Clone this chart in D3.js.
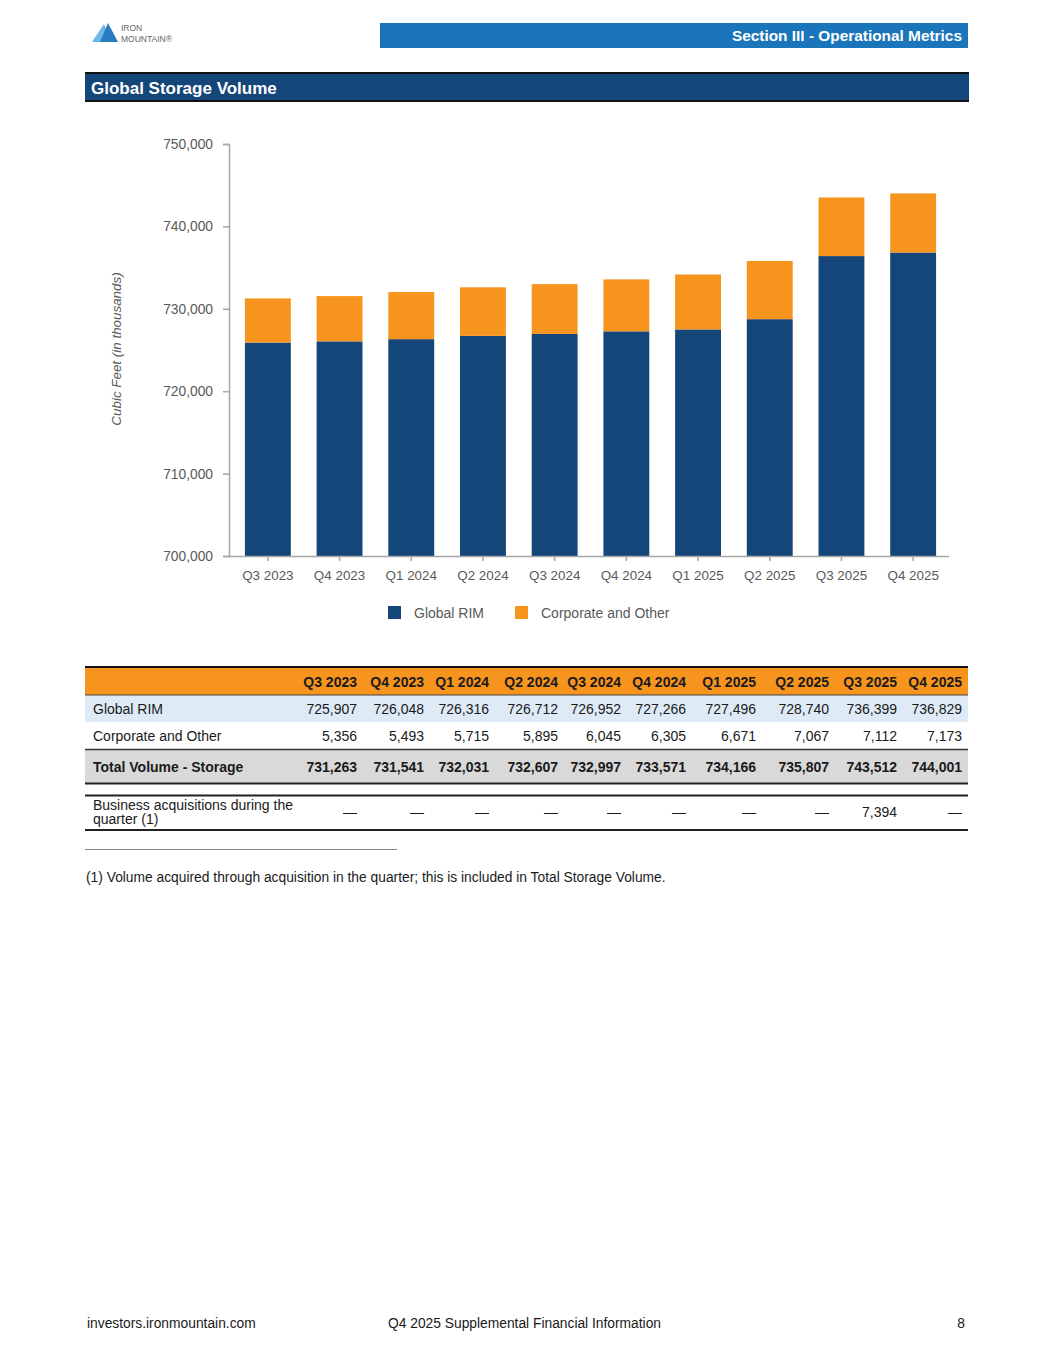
<!DOCTYPE html>
<html>
<head>
<meta charset="utf-8">
<script src="https://cdn.jsdelivr.net/npm/d3@7/dist/d3.min.js"></script>
<style>
  body { margin: 0; background: #fff; }
  text { font-family: "Liberation Sans", Arial, sans-serif; }
</style>
</head>
<body>
<script>
// data
var quarters = ["Q3 2023", "Q4 2023", "Q1 2024", "Q2 2024", "Q3 2024", "Q4 2024", "Q1 2025", "Q2 2025", "Q3 2025", "Q4 2025"];
var globalRim = [725907, 726048, 726316, 726712, 726952, 727266, 727496, 728740, 736399, 736829];
var corporate = [5356, 5493, 5715, 5895, 6045, 6305, 6671, 7067, 7112, 7173];
var totals = [731263, 731541, 732031, 732607, 732997, 733571, 734166, 735807, 743512, 744001];
var acquisitions = [null, null, null, null, null, null, null, null, 7394, null];
var yTicks = [700000, 710000, 720000, 730000, 740000, 750000];
var seriesNames = ["Global RIM", "Corporate and Other"];

var blue = "#15467a", orange = "#f7941d", grey = "#595959";
var fmt = d3.format(",");

var svg = d3.select("body").append("svg")
    .attr("width", 1055)
    .attr("height", 1365);

// ---- page header ----
var logo = svg.append("g");
logo.append("path").attr("d", "M92,42 L104,24 L112,42 Z").attr("fill", "#6cb9e6");
logo.append("path").attr("d", "M100,42 L108,23 L118,42 Z").attr("fill", "#2a7cc0");
logo.append("text").attr("x", 121).attr("y", 31).attr("font-size", 8.5).attr("fill", "#666").text("IRON");
logo.append("text").attr("x", 121).attr("y", 42).attr("font-size", 8.5).attr("fill", "#666").text("MOUNTAIN®");

svg.append("rect").attr("x", 380).attr("y", 23).attr("width", 588).attr("height", 25).attr("fill", "#1b75bb");
svg.append("text")
   .attr("x", 962).attr("y", 41)
   .attr("text-anchor", "end")
   .attr("font-size", 15.4).attr("font-weight", "bold").attr("fill", "#fff")
   .text("Section III - Operational Metrics");

svg.append("rect").attr("x", 85).attr("y", 73).attr("width", 884).attr("height", 28).attr("fill", blue);
svg.append("line").attr("x1", 85).attr("x2", 969).attr("y1", 73).attr("y2", 73).attr("stroke", "#111").attr("stroke-width", 2);
svg.append("line").attr("x1", 85).attr("x2", 969).attr("y1", 101).attr("y2", 101).attr("stroke", "#111").attr("stroke-width", 2);
svg.append("text")
   .attr("x", 91).attr("y", 94)
   .attr("font-size", 17).attr("font-weight", "bold").attr("fill", "#fff")
   .text("Global Storage Volume");

// ---- chart ----
var xScale = d3.scaleBand()
    .domain(quarters)
    .range([232, 949])
    .paddingInner(0.36)
    .paddingOuter(0.18);

var yScale = d3.scaleLinear()
    .domain([700000, 750000])
    .range([556, 144]);

var stackData = quarters.map(function(q, i) {
    return {q: q, rim: globalRim[i], corp: corporate[i]};
});

var chart = svg.append("g");

chart.selectAll(".rim")
    .data(stackData)
    .enter().append("rect")
    .attr("class", "rim")
    .attr("x", function(d) { return xScale(d.q); })
    .attr("width", xScale.bandwidth())
    .attr("y", function(d) { return yScale(d.rim); })
    .attr("height", function(d) { return yScale(700000) - yScale(d.rim); })
    .attr("fill", blue);

chart.selectAll(".corp")
    .data(stackData)
    .enter().append("rect")
    .attr("class", "corp")
    .attr("x", function(d) { return xScale(d.q); })
    .attr("width", xScale.bandwidth())
    .attr("y", function(d) { return yScale(d.rim + d.corp); })
    .attr("height", function(d) { return yScale(d.rim) - yScale(d.rim + d.corp); })
    .attr("fill", orange);

// Y axis
var yAxis = svg.append("g")
    .attr("transform", "translate(229,0)")
    .call(d3.axisLeft(yScale).tickValues(yTicks).tickFormat(fmt).tickSize(6).tickPadding(10));
yAxis.select(".domain").attr("stroke", "#a6a6a6").attr("stroke-width", 1.5);
yAxis.selectAll(".tick line").attr("stroke", "#a6a6a6").attr("stroke-width", 1.5);
yAxis.selectAll(".tick text").attr("font-size", 13.8).attr("fill", grey).style("font-family", "Liberation Sans, Arial, sans-serif");

// X axis
var xAxis = svg.append("g")
    .attr("transform", "translate(0,556)")
    .call(d3.axisBottom(xScale).tickSize(5).tickSizeOuter(0).tickPadding(9));
xAxis.select(".domain").attr("d", "M229,0.5H949").attr("stroke", "#a6a6a6").attr("stroke-width", 1.5);
xAxis.selectAll(".tick line").attr("stroke", "#a6a6a6").attr("stroke-width", 1.5);
xAxis.selectAll(".tick text").attr("font-size", 13.4).attr("fill", grey).style("font-family", "Liberation Sans, Arial, sans-serif");

// Y label
svg.append("text")
   .attr("transform", "translate(121,349) rotate(-90)")
   .attr("text-anchor", "middle")
   .attr("font-size", 13.4).attr("font-style", "italic").attr("fill", grey)
   .text("Cubic Feet (in thousands)");

// legend
var legendX = [388, 515];
var legend = svg.selectAll(".legend")
    .data(seriesNames)
    .enter().append("g")
    .attr("class", "legend")
    .attr("transform", function(d, i) { return "translate(" + legendX[i] + ",606)"; });
legend.append("rect").attr("width", 13).attr("height", 13)
    .attr("fill", function(d, i) { return i === 0 ? blue : orange; });
legend.append("text").attr("x", 26).attr("y", 12)
    .attr("font-size", 14).attr("fill", grey)
    .text(function(d) { return d; });

// ---- table ----
var colRight = [357, 424, 489, 558, 621, 686, 756, 829, 897, 962];
var table = svg.append("g");
var tx0 = 85, tx1 = 968;

table.append("rect").attr("x", tx0).attr("y", 668).attr("width", tx1 - tx0).attr("height", 27).attr("fill", orange);
table.append("rect").attr("x", tx0).attr("y", 695).attr("width", tx1 - tx0).attr("height", 27).attr("fill", "#deebf7");
table.append("rect").attr("x", tx0).attr("y", 750).attr("width", tx1 - tx0).attr("height", 33).attr("fill", "#d9d9d9");

[[667, 2, "#111"], [695, 1, "#444"], [749.5, 1.5, "#333"], [783.5, 2, "#222"], [795.5, 2, "#222"], [830, 2, "#222"]]
  .forEach(function(l) {
    table.append("line").attr("x1", tx0).attr("x2", tx1).attr("y1", l[0]).attr("y2", l[0])
        .attr("stroke", l[2]).attr("stroke-width", l[1]);
  });

function row(values, y, bold, formatter) {
    table.selectAll(null)
        .data(values)
        .enter().append("text")
        .attr("x", function(d, i) { return colRight[i]; })
        .attr("y", y)
        .attr("text-anchor", "end")
        .attr("font-size", 14)
        .attr("font-weight", bold ? "bold" : "normal")
        .attr("fill", "#1a1a1a")
        .text(formatter);
}
function label(txt, y, bold) {
    table.append("text").attr("x", 93).attr("y", y)
        .attr("font-size", 14).attr("font-weight", bold ? "bold" : "normal").attr("fill", "#1a1a1a")
        .text(txt);
}

row(quarters, 687, true, function(d) { return d; });
label("Global RIM", 714, false);
row(globalRim, 714, false, fmt);
label("Corporate and Other", 741, false);
row(corporate, 741, false, fmt);
label("Total Volume - Storage", 772, true);
row(totals, 772, true, fmt);
label("Business acquisitions during the", 810, false);
label("quarter (1)", 824, false);
row(acquisitions, 817, false, function(d) { return d === null ? "\u2014" : fmt(d); });

// footnote
svg.append("line").attr("x1", 85).attr("x2", 397).attr("y1", 849.5).attr("y2", 849.5).attr("stroke", "#888").attr("stroke-width", 1);
svg.append("text").attr("x", 86).attr("y", 882).attr("font-size", 13.8).attr("fill", "#1a1a1a")
   .text("(1) Volume acquired through acquisition in the quarter; this is included in Total Storage Volume.");

// footer
svg.append("text").attr("x", 87).attr("y", 1328).attr("font-size", 13.8).attr("fill", "#1a1a1a").text("investors.ironmountain.com");
svg.append("text").attr("x", 388).attr("y", 1328).attr("font-size", 13.8).attr("fill", "#1a1a1a").text("Q4 2025 Supplemental Financial Information");
svg.append("text").attr("x", 965).attr("y", 1328).attr("text-anchor", "end").attr("font-size", 13.8).attr("fill", "#1a1a1a").text("8");
</script>
</body>
</html>
